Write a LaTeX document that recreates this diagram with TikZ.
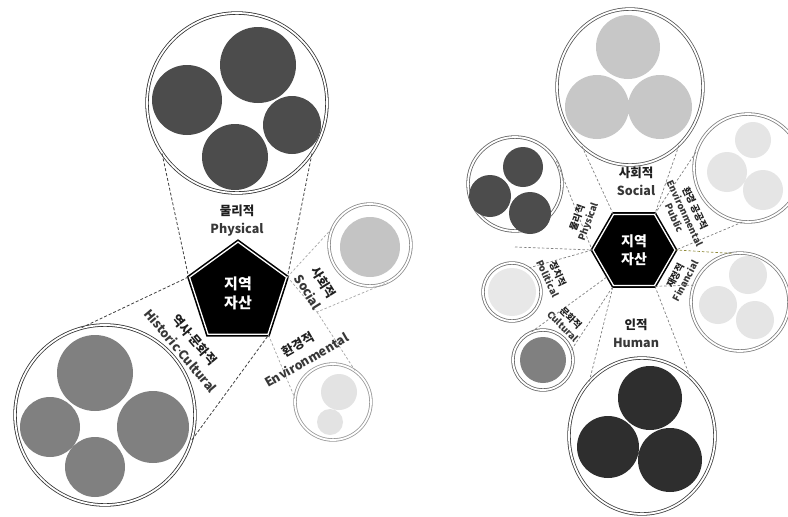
\documentclass[tikz,border=0pt]{standalone}
\usepackage{fontspec}
\setmainfont{Noto Sans CJK KR}
\newfontfamily\latinf{Noto Sans}
\usetikzlibrary{shapes.geometric}
\newcommand{\en}[1]{{\color{black!78}#1}}
\newcommand{\mdot}{{\latinf\bfseries ·}}
\begin{document}
\begin{tikzpicture}[x=1pt,y=-1pt,
 ring/.style={circle,draw=#1,double=white,double distance=1.8pt,line width=0.8pt,inner sep=0pt},
 ering/.style={ellipse,draw=#1,double=white,double distance=1.8pt,line width=0.8pt,inner sep=0pt},
 dk/.style={draw=black!75,dash pattern=on 3pt off 2pt,line width=0.8pt},
 lt/.style={draw=black!35,dash pattern=on 2.5pt off 2pt,line width=0.7pt},
 rl/.style={draw=black!50,dash pattern=on 2.5pt off 2pt,line width=0.7pt},
 yl/.style={draw=olive!60!gray,dash pattern=on 2.5pt off 2pt,line width=0.7pt},
 core/.style={regular polygon,regular polygon sides=#1,fill=black,draw=black,double=white,double distance=1.3pt,line width=1.6pt,inner sep=0pt,text=white,align=center},
 lab/.style={align=center,font=\bfseries\fontsize{12.5}{18}\selectfont,text=black!88,inner sep=0pt},
 slab/.style={align=center,font=\bfseries\fontsize{9.5}{11.5}\selectfont,text=black!88,inner sep=0pt},
]
\clip (0,0) rectangle (788,517);
\fill[white] (0,0) rectangle (788,517);

% ---------- left diagram ----------
\node[ring=black!80,minimum size=180pt] (lPhys) at (237,103) {};
\node[ring=black!80,minimum size=180pt] (lHist) at (105,415) {};
\node[ring=black!45,minimum size=82pt] (lSoc) at (370,245) {};
\node[ring=black!40,minimum size=76pt] (lEnv) at (333,402) {};

\fill[black!70] (258,65) circle[radius=38pt] (187,100) circle[radius=35pt]
  (292,125) circle[radius=29pt] (235,157) circle[radius=33pt];
\fill[black!50] (95,373) circle[radius=38pt] (50,427) circle[radius=30pt]
  (153,427) circle[radius=36pt] (95,467) circle[radius=30pt];
\fill[black!23] (370,247) circle[radius=30pt];
\fill[black!11] (339,392) circle[radius=18pt] (330,422) circle[radius=13pt];

\node[core=5,minimum size=102pt,font=\bfseries\fontsize{15}{19}\selectfont] (lPent) at (238,293) {지역\\자산};

\coordinate (lSocJ) at (317,312);
\draw[dk] (lPhys.214) -- (lPent.162);
\draw[dk] (lPhys.326) -- (lPent.18);
\draw[dk] (lHist.105) -- (lPent.162);
\draw[dk] (lHist.344) -- (lPent.306);
\draw[lt] (lPent.18) -- (lSoc.156);
\draw[lt] (lPent.18) -- (lSocJ) -- (lSoc.295);
\draw[lt] (lSocJ) -- (lEnv.55);
\draw[lt] (lPent.306) -- (lEnv.174);

\node[lab] (lPhysT) at (237,221) {물리적\\\en{Physical}};
\node[lab,rotate=-50] (lHistT) at (188,345) {역사\mdot 문화적\\\en{Historic\mdot Cultural}};
\node[lab,rotate=-58] (lSocT) at (316,287) {사회적\\\en{Social}};
\node[lab,rotate=30] (lEnvT) at (302,352) {환경적\\\en{Environmental}};

% ---------- right diagram ----------
\node[ering=black!65,minimum width=146pt,minimum height=156pt] (rSoc) at (630,87) {};
\node[ering=black!75,minimum width=146pt,minimum height=156pt] (rHum) at (642,436) {};
\node[ring=black!60,minimum size=94pt] (rPhys) at (515,184) {};
\node[ring=black!55,minimum size=58pt] (rPol) at (512,292) {};
\node[ring=black!60,minimum size=60pt] (rCul) at (543,360) {};
\node[ring=black!50,minimum size=108pt] (rEnv) at (748,168) {};
\node[ring=black!50,minimum size=98pt] (rFin) at (740,302) {};

\fill[black!22] (628,47) circle[radius=32pt] (597,107) circle[radius=32pt] (660,107) circle[radius=32pt];
\fill[black!82] (650,398) circle[radius=32pt] (608,447) circle[radius=31pt] (670,460) circle[radius=32pt];
\fill[black!70] (523,167) circle[radius=20pt] (490,196) circle[radius=21pt] (530,213) circle[radius=21pt];
\fill[black!9] (512,292) circle[radius=24pt];
\fill[black!50] (543,360) circle[radius=23pt];
\fill[black!10] (753,140) circle[radius=18pt] (727,172) circle[radius=20pt] (763,190) circle[radius=20pt];
\fill[black!10] (748,275) circle[radius=19pt] (718,305) circle[radius=19pt] (755,320) circle[radius=19pt];

\node[core=6,minimum size=82pt,font=\bfseries\fontsize{14}{18}\selectfont] (hex) at (634,250) {지역\\자산};

\coordinate (rPhysJ) at (515,247);
\draw[rl] (rSoc.231) -- (hex.120);
\draw[rl] (rSoc.310) -- (hex.60);
\draw[rl] (rHum.134) -- (hex.240);
\draw[rl] (rHum.51) -- (hex.300);
\draw[rl] (rPhys.29) -- (hex.180);
\draw[rl] (rPhysJ) -- (hex.180);
\draw[rl] (rPol.55) -- (hex.180);
\draw[rl] (rCul.112) -- (hex.225);
\draw[rl] (rCul.20) -- (hex.240);
\draw[rl] (rEnv.163) -- (hex.60);
\draw[rl] (rEnv.264) -- (hex.0);
\draw[yl] (rFin.100) -- (hex.0);
\draw[rl] (rFin.160) -- (hex.300);

\node[lab] (rSocT) at (636,181) {사회적\\\en{Social}};
\node[lab] (rHumT) at (636,333) {인적\\\en{Human}};
\node[slab,rotate=70] (rPhysT) at (583,220) {물리적\\\en{Physical}};
\node[slab,rotate=-65] (rPolT) at (553,276) {정치적\\\en{Political}};
\node[slab,rotate=-45] (rCulT) at (567,322) {문화적\\\en{Cultural}};
\node[slab,rotate=-65] (rEnvT) at (685,213) {환경 공공적\\\en{Environmental}\\\en{Public}};
\node[slab,rotate=62] (rFinT) at (680,278) {재정적\\\en{Financial}};
\end{tikzpicture}
\end{document}
